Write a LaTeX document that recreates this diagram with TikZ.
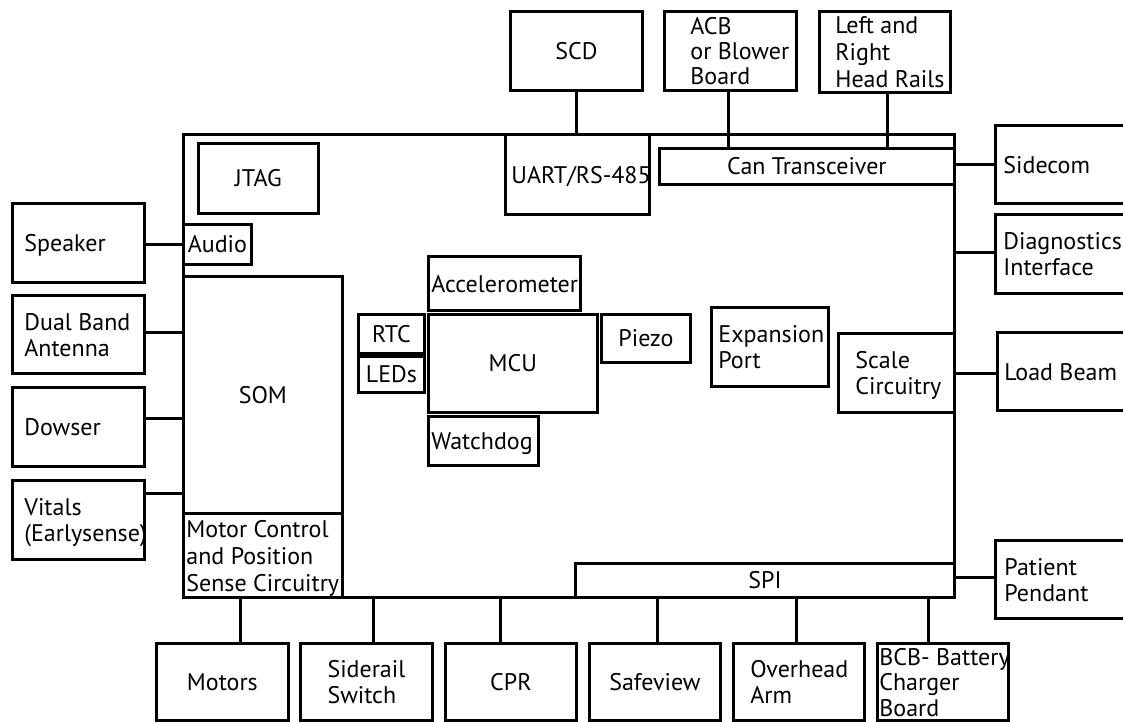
\documentclass[tikz,border=0pt]{standalone}
\usepackage{fontspec}
\setmainfont{PT Sans}
\newcommand{\lblk}[2]{\makebox[#1][l]{\raisebox{-3.5pt}[\height][\depth]{\begin{tabular}{@{}l@{}}#2\end{tabular}}}}
\newcommand{\cblk}[1]{\raisebox{-3.5pt}[\height][\depth]{\begin{tabular}{@{}l@{}}#1\end{tabular}}}
\begin{document}
\begin{tikzpicture}[x=1pt,y=-1pt,
  box/.style={draw, line width=2.8pt, inner sep=0pt, anchor=north west,
    font=\fontsize{24}{26}\selectfont},
  conn/.style={line width=2.8pt}]
\useasboundingbox (0,0) rectangle (1123,721);
% main board
\node[box, minimum width=771pt, minimum height=463pt] (main) at (182,133) {};
% inner blocks
\node[box, minimum width=120pt, minimum height=70pt] (jtag) at (197,142) {JTAG};
\node[box, minimum width=68pt, minimum height=40pt] (audio) at (182,223) {Audio};
\node[box, minimum width=159pt, minimum height=237pt] (som) at (182,275) {SOM};
\node[box, minimum width=159pt, minimum height=84pt, font=\fontsize{24}{27}\selectfont] (motorctl) at (182,512) {\lblk{153pt}{Motor Control\\and Position\\Sense Circuitry}};
\node[box, minimum width=144pt, minimum height=80pt] (uart) at (504,133) {\lblk{132pt}{UART/RS-485}};
\node[box, minimum width=295pt, minimum height=36pt] (cant) at (658,147) {Can Transceiver};
\node[box, minimum width=152pt, minimum height=54pt] (accel) at (427,255) {\lblk{146pt}{Accelerometer}};
\node[box, minimum width=169pt, minimum height=98pt] (mcu) at (427,313) {MCU};
\node[box, minimum width=89pt, minimum height=48pt] (piezo) at (600,313) {Piezo};
\node[box, minimum width=110pt, minimum height=49pt] (watchdog) at (427,415) {\lblk{104pt}{Watchdog}};
\node[box, minimum width=66pt, minimum height=39pt] (rtc) at (357,313) {RTC};
\node[box, minimum width=66pt, minimum height=36pt] (leds) at (357,355) {LEDs};
\node[box, minimum width=117pt, minimum height=79pt] (expansion) at (710,306) {\lblk{103pt}{Expansion\\Port}};
\node[box, minimum width=116pt, minimum height=79pt] (scale) at (837,332) {\lblk{82pt}{Scale\\Circuitry}};
\node[box, minimum width=379pt, minimum height=34pt] (spi) at (574,562) {SPI};
% left peripherals
\node[box, minimum width=132pt, minimum height=79pt] (speaker) at (11,202) {\lblk{108pt}{Speaker}};
\node[box, minimum width=132pt, minimum height=78pt] (dual) at (11,294) {\lblk{108pt}{Dual Band\\Antenna}};
\node[box, minimum width=132pt, minimum height=79pt] (dowser) at (11,386) {\lblk{108pt}{Dowser}};
\node[box, minimum width=132pt, minimum height=79pt] (vitals) at (11,479) {\lblk{108pt}{Vitals\\(Earlysense)}};
% top peripherals
\node[box, minimum width=132pt, minimum height=79pt] (scd) at (509,10) {SCD};
\node[box, minimum width=132pt, minimum height=79pt, font=\fontsize{24}{25}\selectfont] (acb) at (663,10) {\lblk{80pt}{ACB\\or Blower\\Board}};
\node[box, minimum width=131pt, minimum height=79pt, font=\fontsize{24}{27}\selectfont] (rails) at (818,10) {\lblk{99pt}{Left and\\Right\\Head Rails}};
% right peripherals
\node[box, minimum width=140pt, minimum height=78pt] (sidecom) at (994,124) {\lblk{124pt}{Sidecom}};
\node[box, minimum width=140pt, minimum height=79pt] (diag) at (994,213) {\lblk{124pt}{Diagnostics\\Interface}};
\node[box, minimum width=140pt, minimum height=78pt] (loadbeam) at (996,331) {\lblk{126pt}{Load Beam}};
\node[box, minimum width=140pt, minimum height=78pt] (patient) at (994,539) {\lblk{122pt}{Patient\\Pendant}};
% bottom peripherals
\node[box, minimum width=132pt, minimum height=77pt] (motors) at (155,642) {Motors};
\node[box, minimum width=132pt, minimum height=77pt] (siderail) at (299,642) {\cblk{Siderail\\Switch}};
\node[box, minimum width=131pt, minimum height=77pt] (cpr) at (444,642) {CPR};
\node[box, minimum width=131pt, minimum height=77pt] (safeview) at (588,642) {Safeview};
\node[box, minimum width=131pt, minimum height=77pt] (overhead) at (732,642) {\lblk{97pt}{Overhead\\Arm}};
\node[box, minimum width=131pt, minimum height=77pt, font=\fontsize{24}{25.5}\selectfont] (bcb) at (876,642) {\lblk{127pt}{BCB- Battery\\Charger\\Board}};
% connectors
\draw[conn] (audio.west) -- (audio.west -| speaker.east);
\draw[conn] ([yshift=2pt]dual.east) -- ([yshift=2pt]dual.east -| main.west);
\draw[conn] ([yshift=8.5pt]dowser.east) -- ([yshift=8.5pt]dowser.east -| main.west);
\draw[conn] ([yshift=26.5pt]vitals.east) -- ([yshift=26.5pt]vitals.east -| main.west);
\draw[conn] (scd.south) -- (scd.south |- main.north);
\draw[conn] ([xshift=-2pt]acb.south) -- ([xshift=-2pt]acb.south |- cant.north);
\draw[conn] ([xshift=2.5pt]rails.south) -- ([xshift=2.5pt]rails.south |- cant.north);
\draw[conn] (sidecom.west) -- (sidecom.west -| main.east);
\draw[conn] ([yshift=1.5pt]diag.west) -- ([yshift=1.5pt]diag.west -| main.east);
\draw[conn] ([yshift=-2pt]loadbeam.west) -- ([yshift=-2pt]loadbeam.west -| main.east);
\draw[conn] ([yshift=2pt]patient.west) -- ([yshift=2pt]patient.west -| main.east);
\draw[conn] ([xshift=18pt]motors.north) -- ([xshift=18pt]motors.north |- main.south);
\draw[conn] ([xshift=7pt]siderail.north) -- ([xshift=7pt]siderail.north |- main.south);
\draw[conn] ([xshift=-10.5pt]cpr.north) -- ([xshift=-10.5pt]cpr.north |- main.south);
\draw[conn] ([xshift=2.5pt]safeview.north) -- ([xshift=2.5pt]safeview.north |- main.south);
\draw[conn] ([xshift=-2.5pt]overhead.north) -- ([xshift=-2.5pt]overhead.north |- main.south);
\draw[conn] ([xshift=-14.5pt]bcb.north) -- ([xshift=-14.5pt]bcb.north |- main.south);
\end{tikzpicture}
\end{document}
